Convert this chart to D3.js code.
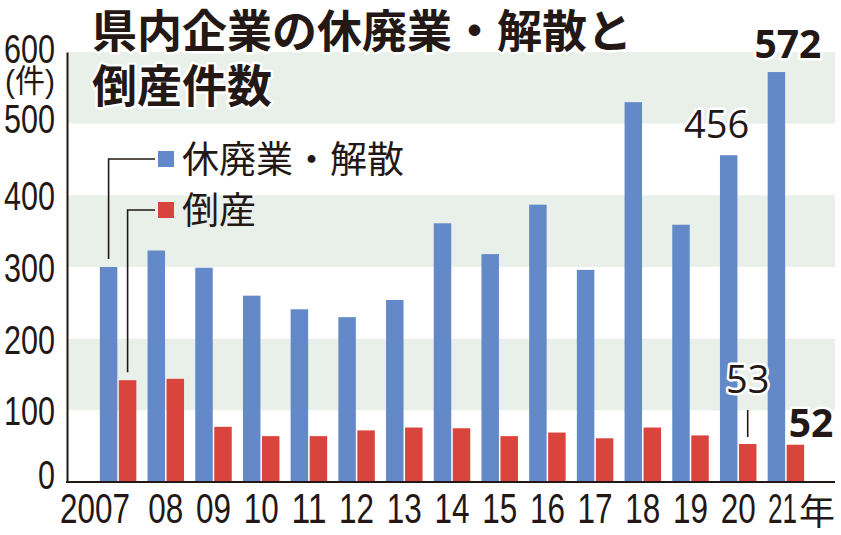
<!DOCTYPE html>
<html>
<head>
<meta charset="UTF-8">
<title>県内企業の休廃業・解散と倒産件数</title>
<script src="https://cdn.jsdelivr.net/npm/d3@7"></script>
<style>
  body { margin: 0; background: #fff; }
  svg { display: block; }
</style>
</head>
<body>
<svg id="chart" width="841" height="535"></svg>
<script>
// data
const years = ["2007", "08", "09", "10", "11", "12", "13", "14", "15", "16", "17", "18", "19", "20", "21"];
const closures = [300, 323, 299, 260, 241, 230, 254, 361, 318, 387, 296, 530, 359, 456, 572];
const bankruptcies = [142, 144, 77, 64, 64, 72, 76, 75, 64, 69, 61, 76, 65, 53, 52];
const seriesNames = ["休廃業・解散", "倒産"];
const yTicks = [0, 100, 200, 300, 400, 500, 600];
const bandRanges = [[100, 200], [300, 400], [500, 600]];

const ink = "#231815";
const blue = "#6489c9";
const red = "#d9443c";
const cjk = "'Noto Sans CJK JP', 'Noto Sans CJK SC', sans-serif";
const narrow = "'Liberation Sans', 'Noto Sans CJK JP', sans-serif";
const num = "'Open Sans', 'Noto Sans', sans-serif";

const svg = d3.select("#chart");
const axisX = 67, rightEdge = 835;

const y = d3.scaleLinear().domain([0, 600]).range([482, 52]);
const x = d3.scaleBand().domain(years).range([76, 828]).paddingInner(0.235).paddingOuter(0.5);
const xs = d3.scaleBand().domain(seriesNames).range([0, x.bandwidth()]).paddingInner(0.08);
const colors = d3.scaleOrdinal().domain(seriesNames).range([blue, red]);

// shaded bands
svg.append("g").selectAll("rect")
  .data(bandRanges)
  .join("rect")
  .attr("x", axisX)
  .attr("width", rightEdge - axisX)
  .attr("y", d => y(d[1]))
  .attr("height", d => y(d[0]) - y(d[1]))
  .attr("fill", "#e9f0e9");

// bars
const rows = years.map((yr, i) => ({ year: yr, values: [closures[i], bankruptcies[i]] }));
const groups = svg.append("g").selectAll("g")
  .data(rows)
  .join("g")
  .attr("transform", d => `translate(${x(d.year)},0)`);
groups.selectAll("rect")
  .data(d => d.values.map((v, k) => ({ key: seriesNames[k], value: v })))
  .join("rect")
  .attr("x", d => xs(d.key))
  .attr("width", xs.bandwidth())
  .attr("y", d => y(d.value))
  .attr("height", d => y(0) - y(d.value))
  .attr("fill", d => colors(d.key));

// y axis (condensed digits squeezed with textLength)
const yAxis = svg.append("g")
  .attr("transform", `translate(${axisX},0)`)
  .call(d3.axisLeft(y).tickValues(yTicks).tickSize(0).tickSizeOuter(0).tickPadding(12));
yAxis.select(".domain").attr("stroke", ink).attr("stroke-width", 2);
const yShift = { 0: -8, 500: -6, 600: -4 };
yAxis.selectAll(".tick text")
  .attr("font-family", narrow)
  .attr("font-size", 40)
  .attr("fill", ink)
  .attr("dy", "0.36em")
  .attr("y", d => yShift[d] || 0)
  .attr("textLength", d => String(d).length * 17)
  .attr("lengthAdjust", "spacingAndGlyphs");
svg.append("text")
  .attr("x", 55).attr("y", 92)
  .attr("text-anchor", "end")
  .attr("font-family", narrow)
  .attr("font-size", 32)
  .attr("fill", ink)
  .attr("textLength", 50)
  .attr("lengthAdjust", "spacingAndGlyphs")
  .text("(件)");

// x axis labels
const xAxis = svg.append("g")
  .attr("transform", `translate(0,${y(0)})`)
  .call(d3.axisBottom(x).tickSize(0).tickSizeOuter(0));
xAxis.select(".domain").remove();
xAxis.selectAll(".tick text")
  .attr("font-family", narrow)
  .attr("font-size", 42)
  .attr("fill", ink)
  .attr("y", 41)
  .attr("dy", 0)
  .attr("textLength", (d, i) => i === years.length - 1 ? 29 : d.length * 17.5)
  .attr("lengthAdjust", "spacingAndGlyphs")
  .each(function (d, i) {
    const t = d3.select(this);
    if (i === 0) t.attr("text-anchor", "end").attr("x", 12);
    if (i === years.length - 1) t.attr("text-anchor", "start").attr("x", -18);
  });
const lastX = x(years[years.length - 1]) + x.bandwidth() / 2;
svg.append("text")
  .attr("x", lastX + 13).attr("y", y(0) + 43)
  .attr("font-family", cjk)
  .attr("font-size", 36)
  .attr("fill", ink)
  .text("年");
svg.append("line")
  .attr("x1", axisX - 1).attr("x2", rightEdge)
  .attr("y1", y(0)).attr("y2", y(0))
  .attr("stroke", ink).attr("stroke-width", 2);

// legend with leader lines from the 2007 bars
const legendY = [159, 210];
seriesNames.forEach((name, k) => {
  const cx = x(years[0]) + xs(name) + xs.bandwidth() / 2;
  const top = y(k === 0 ? closures[0] : bankruptcies[0]) - 8;
  svg.append("path")
    .attr("d", `M${cx},${top}V${legendY[k]}H155`)
    .attr("fill", "none")
    .attr("stroke", ink)
    .attr("stroke-width", 1.6);
  svg.append("rect")
    .attr("x", 158).attr("y", legendY[k] - 8)
    .attr("width", 16).attr("height", 16)
    .attr("fill", colors(name));
  svg.append("text")
    .attr("x", 182).attr("y", legendY[k] + 14)
    .attr("font-family", cjk)
    .attr("font-size", 37)
    .attr("fill", ink)
    .text(name);
});

// value labels
const halo = sel => sel.attr("stroke", "#fff").attr("stroke-width", 5)
  .attr("stroke-linejoin", "round").attr("paint-order", "stroke");
const i20 = years.indexOf("20"), i21 = years.indexOf("21");
svg.append("text")
  .attr("x", x("20") + xs(seriesNames[0]) + xs.bandwidth() / 2 - 12)
  .attr("y", y(closures[i20]) - 17)
  .attr("text-anchor", "middle")
  .attr("font-family", num).attr("font-size", 38).attr("fill", ink)
  .call(halo)
  .text(closures[i20]);
svg.append("text")
  .attr("x", x("21") + x.bandwidth() / 2 + 2)
  .attr("y", y(closures[i21]) - 14)
  .attr("text-anchor", "middle")
  .attr("font-family", num).attr("font-size", 39).attr("font-weight", 700).attr("fill", ink)
  .call(halo)
  .text(closures[i21]);
const cx53 = x("20") + xs(seriesNames[1]) + xs.bandwidth() / 2;
svg.append("line")
  .attr("x1", cx53).attr("x2", cx53)
  .attr("y1", y(bankruptcies[i20]) - 7).attr("y2", y(bankruptcies[i20]) - 34)
  .attr("stroke", ink).attr("stroke-width", 1.6);
svg.append("text")
  .attr("x", cx53)
  .attr("y", y(bankruptcies[i20]) - 51)
  .attr("text-anchor", "middle")
  .attr("font-family", num).attr("font-size", 38).attr("fill", ink)
  .call(halo)
  .text(bankruptcies[i20]);
svg.append("text")
  .attr("x", x("21") + xs(seriesNames[1]) + 2)
  .attr("y", y(bankruptcies[i21]) - 8)
  .attr("font-family", num).attr("font-size", 39).attr("font-weight", 700).attr("fill", ink)
  .call(halo)
  .text(bankruptcies[i21]);

// title
const title = svg.append("text")
  .attr("font-family", cjk)
  .attr("font-size", 45)
  .attr("font-weight", 700)
  .attr("fill", ink)
  .call(halo);
title.append("tspan").attr("x", 92).attr("y", 48).text("県内企業の休廃業・解散と");
title.append("tspan").attr("x", 92).attr("y", 103).text("倒産件数");
</script>
</body>
</html>
